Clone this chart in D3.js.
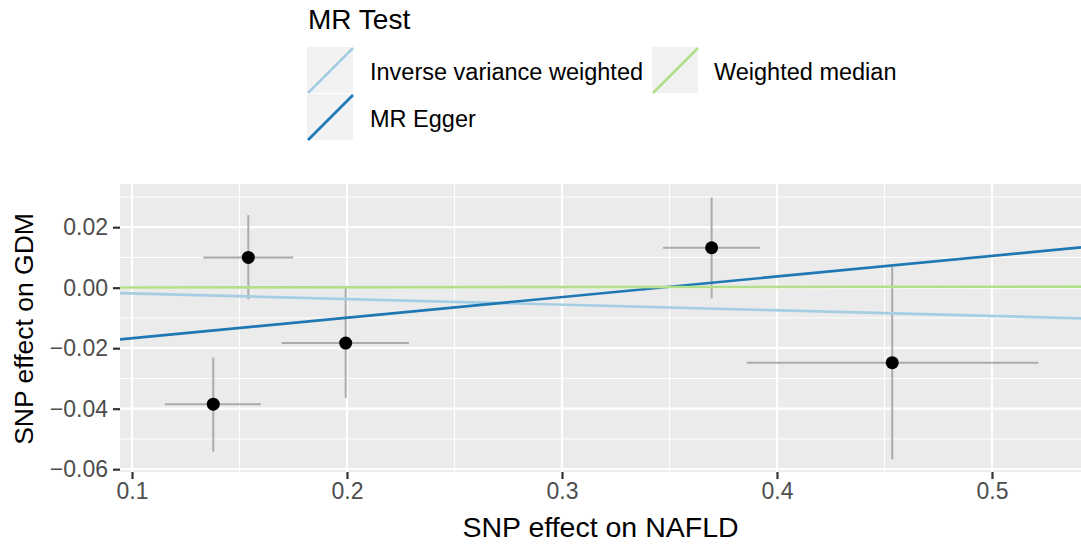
<!DOCTYPE html>
<html>
<head>
<meta charset="utf-8">
<script src="https://cdn.jsdelivr.net/npm/d3@7/dist/d3.min.js"></script>
<style>
  body { margin: 0; background: #fff; }
  svg { display: block; font-family: "Liberation Sans", Arial, sans-serif; }
</style>
</head>
<body>
<div id="chart"></div>
<script>
// SNP estimates (exposure = NAFLD, outcome = GDM)
var snpX    = [0.1378, 0.1541, 0.1994, 0.3696, 0.4536];
var snpXLo  = [0.1153, 0.1332, 0.1696, 0.3470, 0.3859];
var snpXHi  = [0.1599, 0.1750, 0.2288, 0.3921, 0.5215];
var snpY    = [-0.0385, 0.0100, -0.0183, 0.0132, -0.0248];
var snpYLo  = [-0.0542, -0.0038, -0.0364, -0.0035, -0.0567];
var snpYHi  = [-0.0231, 0.0240, 0.0000, 0.0298, 0.0069];

// MR fits: intercept + slope
var methods    = ["Inverse variance weighted", "MR Egger", "Weighted median"];
var intercepts = [0, -0.0235, 0];
var slopes     = [-0.0187, 0.0680, 0.0006];
var colors     = ["#A6CEE3", "#1F78B4", "#B2DF8A"];

var xTicks = [0.1, 0.2, 0.3, 0.4, 0.5];
var xMinor = [0.15, 0.25, 0.35, 0.45];
var yTicks = [0.02, 0.00, -0.02, -0.04, -0.06];
var yMinor = [0.03, 0.01, -0.01, -0.03, -0.05];

var W = 1081, H = 547;
var panel = { left: 120, right: 1081, top: 184, bottom: 472 };

var svg = d3.select('#chart').append('svg')
  .attr('width', W)
  .attr('height', H);

var x = d3.scaleLinear().domain([0.09442, 0.5414]).range([panel.left, panel.right]);
var y = d3.scaleLinear().domain([-0.06093, 0.03428]).range([panel.bottom, panel.top]);

// panel background
svg.append('rect')
  .attr('x', panel.left).attr('y', panel.top)
  .attr('width', panel.right - panel.left).attr('height', panel.bottom - panel.top)
  .attr('fill', '#EBEBEB');

svg.append('clipPath').attr('id', 'clip')
  .append('rect')
  .attr('x', panel.left).attr('y', panel.top)
  .attr('width', panel.right - panel.left).attr('height', panel.bottom - panel.top);

var grid = svg.append('g').attr('stroke', '#fff');
grid.selectAll('.xmin').data(xMinor).enter().append('line')
  .attr('x1', d => x(d)).attr('x2', d => x(d))
  .attr('y1', panel.top).attr('y2', panel.bottom).attr('stroke-width', 1.1);
grid.selectAll('.ymin').data(yMinor).enter().append('line')
  .attr('y1', d => y(d)).attr('y2', d => y(d))
  .attr('x1', panel.left).attr('x2', panel.right).attr('stroke-width', 1.1);
grid.selectAll('.xmaj').data(xTicks).enter().append('line')
  .attr('x1', d => x(d)).attr('x2', d => x(d))
  .attr('y1', panel.top).attr('y2', panel.bottom).attr('stroke-width', 2.2);
grid.selectAll('.ymaj').data(yTicks).enter().append('line')
  .attr('y1', d => y(d)).attr('y2', d => y(d))
  .attr('x1', panel.left).attr('x2', panel.right).attr('stroke-width', 2.2);

var plot = svg.append('g').attr('clip-path', 'url(#clip)');
var idx = d3.range(snpX.length);

// error bars
plot.selectAll('.ev').data(idx).enter().append('line')
  .attr('x1', i => x(snpX[i])).attr('x2', i => x(snpX[i]))
  .attr('y1', i => y(snpYLo[i])).attr('y2', i => y(snpYHi[i]))
  .attr('stroke', '#ABABAB').attr('stroke-width', 2);
plot.selectAll('.eh').data(idx).enter().append('line')
  .attr('y1', i => y(snpY[i])).attr('y2', i => y(snpY[i]))
  .attr('x1', i => x(snpXLo[i])).attr('x2', i => x(snpXHi[i]))
  .attr('stroke', '#ABABAB').attr('stroke-width', 2);

// points
plot.selectAll('circle').data(idx).enter().append('circle')
  .attr('cx', i => x(snpX[i])).attr('cy', i => y(snpY[i]))
  .attr('r', 6.5).attr('fill', '#000');

// fitted lines
var xd = x.domain();
plot.selectAll('.fit').data(d3.range(methods.length)).enter().append('line')
  .attr('x1', x(xd[0])).attr('x2', x(xd[1]))
  .attr('y1', m => y(intercepts[m] + slopes[m] * xd[0]))
  .attr('y2', m => y(intercepts[m] + slopes[m] * xd[1]))
  .attr('stroke', m => colors[m]).attr('stroke-width', 2.7);

// axes
var xAxis = svg.append('g')
  .attr('transform', 'translate(0,' + panel.bottom + ')')
  .call(d3.axisBottom(x).tickValues(xTicks).tickSize(7).tickPadding(4).tickFormat(d3.format('.1f')));
var yAxis = svg.append('g')
  .attr('transform', 'translate(' + panel.left + ',0)')
  .call(d3.axisLeft(y).tickValues(yTicks).tickSize(7).tickPadding(5)
    .tickFormat(d => d === 0 ? '0.00' : d3.format('.2f')(d).replace('-', '\u2212')));
[xAxis, yAxis].forEach(function (a) {
  a.select('.domain').remove();
  a.selectAll('.tick line').attr('stroke', '#333').attr('stroke-width', 2.2);
  a.selectAll('.tick text').attr('fill', '#4D4D4D').attr('font-size', 23)
    .attr('font-family', '"Liberation Sans", Arial, sans-serif');
});

// axis titles
svg.append('text')
  .attr('x', (panel.left + panel.right) / 2).attr('y', 537)
  .attr('text-anchor', 'middle').attr('font-size', 28.5)
  .text('SNP effect on NAFLD');
svg.append('text')
  .attr('transform', 'translate(33,' + ((panel.top + panel.bottom) / 2 + 1) + ') rotate(-90)')
  .attr('text-anchor', 'middle').attr('font-size', 26.5)
  .text('SNP effect on GDM');

// legend
var legend = svg.append('g');
legend.append('text').attr('x', 308).attr('y', 29).attr('font-size', 28).text('MR Test');

var keyPos = [
  { kx: 307, ky: 47, lx: 370, ly: 80 },
  { kx: 307, ky: 94, lx: 370, ly: 127 },
  { kx: 652, ky: 47, lx: 714, ly: 80 }
];
var ks = 46;
var keys = legend.selectAll('.key').data(d3.range(methods.length)).enter().append('g');
keys.append('rect')
  .attr('x', m => keyPos[m].kx).attr('y', m => keyPos[m].ky)
  .attr('width', ks).attr('height', ks).attr('fill', '#F2F2F2');
keys.append('line')
  .attr('x1', m => keyPos[m].kx + 1).attr('y1', m => keyPos[m].ky + ks)
  .attr('x2', m => keyPos[m].kx + ks).attr('y2', m => keyPos[m].ky + 1)
  .attr('stroke', m => colors[m]).attr('stroke-width', 2.7);
keys.append('text')
  .attr('x', m => keyPos[m].lx).attr('y', m => keyPos[m].ly)
  .attr('font-size', 23.5).text(m => methods[m]);
</script>
</body>
</html>
